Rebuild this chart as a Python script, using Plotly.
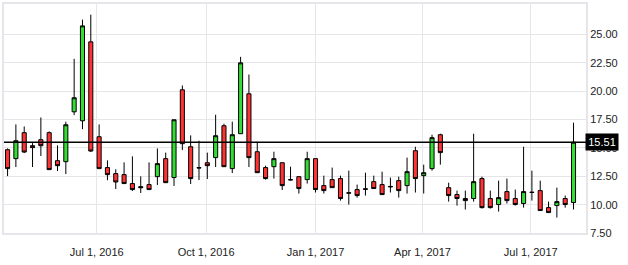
import plotly.graph_objects as go
import pandas as pd

# Weekly candles (week start dates)
dates = pd.date_range("2016-04-17", periods=69, freq="7D")

opens = [14.85,14.06,16.35,15.20,15.73,16.35,13.88,13.79,18.19,17.40,
         24.36,15.99,13.27,12.74,12.65,11.86,11.59,11.77,12.47,14.06,
         12.39,20.13,15.11,13.27,13.70,14.15,16.96,13.18,16.26,19.78,
         14.67,13.27,13.35,13.70,12.21,12.47,12.21,14.06,11.68,12.21,
         12.30,11.05,11.33,11.40,12.03,11.77,11.61,12.12,11.68,14.76,
         12.56,13.18,16.17,11.50,10.89,10.54,10.54,12.30,10.54,10.01,
         11.15,10.54,10.10,11.10,11.24,9.74,9.92,10.54,10.19]
closes = [13.18,15.64,14.64,15.03,15.20,13.09,13.44,17.05,19.43,25.77,
          14.73,13.18,12.65,12.00,11.86,11.33,11.50,11.33,13.62,11.94,
          17.49,15.38,12.30,13.24,13.44,16.08,13.35,16.17,22.51,14.15,
          12.82,12.30,14.06,11.68,12.19,11.42,14.06,11.33,11.24,11.50,
          10.54,11.02,10.80,11.36,11.42,10.89,11.58,11.24,12.91,12.30,
          12.82,15.91,14.59,10.80,10.54,10.36,12.03,9.74,9.74,10.62,
          10.36,10.01,11.15,11.08,9.48,9.30,10.27,10.01,15.51]
highs = [14.96,17.08,16.90,15.43,17.69,16.46,15.23,17.32,22.86,26.32,
         26.76,17.08,13.91,13.12,13.73,14.26,12.50,13.73,14.96,14.59,
         17.49,20.51,16.11,15.64,14.59,17.93,17.14,17.32,23.04,21.48,
         15.55,13.44,14.67,13.70,13.35,12.47,14.67,14.06,12.56,13.27,
         12.56,13.00,11.77,12.82,12.56,12.91,12.39,12.47,14.15,15.11,
         13.53,16.17,16.26,11.94,11.24,11.24,16.26,12.47,11.24,12.12,
         12.30,11.33,15.11,13.00,12.12,10.27,11.50,10.80,17.23]
lows = [12.52,13.32,14.55,13.32,14.29,13.09,12.97,12.70,17.90,16.66,
        14.64,13.18,12.15,11.38,11.86,11.21,11.03,11.33,11.73,11.94,
        11.65,14.81,11.82,12.17,12.26,13.32,13.35,12.79,16.26,13.32,
        12.82,12.21,12.30,11.29,12.12,10.98,11.86,11.07,10.98,11.50,
        10.36,10.01,10.62,10.80,11.42,10.89,11.07,10.62,10.98,11.07,
        10.98,13.00,13.53,10.27,9.92,9.57,10.27,9.66,9.66,9.39,
        10.10,9.92,9.74,10.36,9.48,9.30,8.86,9.74,9.57]

x_tick_dates = ["2016-07-01", "2016-10-01", "2017-01-01", "2017-04-01", "2017-07-01"]
x_tick_labels = ["Jul 1, 2016", "Oct 1, 2016", "Jan 1, 2017", "Apr 1, 2017", "Jul 1, 2017"]
y_ticks = [7.5, 10, 12.5, 15, 17.5, 20, 22.5, 25]
last_price = 15.51

FONT = "Liberation Sans, Arial, sans-serif"
GRID = "#e6e6ea"

fig = go.Figure(go.Candlestick(
    x=dates, open=opens, high=highs, low=lows, close=closes,
    increasing=dict(line=dict(color="black", width=1), fillcolor="#33dd33"),
    decreasing=dict(line=dict(color="black", width=1), fillcolor="#ff3333"),
    whiskerwidth=0, showlegend=False, hoverinfo="skip"))

fig.update_layout(
    width=628, height=265,
    margin=dict(l=2, r=42, t=3, b=32),
    plot_bgcolor="white", paper_bgcolor="white",
    xaxis=dict(range=["2016-04-14", "2017-08-16 12:00"],
               rangeslider=dict(visible=False),
               tickvals=x_tick_dates, ticktext=x_tick_labels,
               showgrid=True, gridcolor=GRID, gridwidth=1,
               showline=True, linecolor=GRID, linewidth=2, mirror=True,
               ticks="", ticklabelstandoff=8,
               tickfont=dict(family=FONT, size=11, color="#222")),
    yaxis=dict(side="right", range=[7.5, 27.7],
               tickvals=y_ticks, tickformat=".2f",
               showgrid=True, gridcolor=GRID, gridwidth=1, zeroline=False,
               showline=True, linecolor=GRID, linewidth=2, mirror=True,
               ticks="",
               tickfont=dict(family=FONT, size=11, color="#222")),
)

fig.add_shape(type="line", xref="paper", x0=0, x1=1, yref="y",
              y0=last_price, y1=last_price, line=dict(color="black", width=1.5))
fig.add_annotation(xref="paper", x=1, xanchor="left", xshift=-1,
                   yref="y", y=last_price, yanchor="middle",
                   text=f"{last_price:.2f}", showarrow=False,
                   bgcolor="black", font=dict(family=FONT, size=11, color="white"),
                   width=30, height=14, borderpad=1)

fig.write_html("out.html")
